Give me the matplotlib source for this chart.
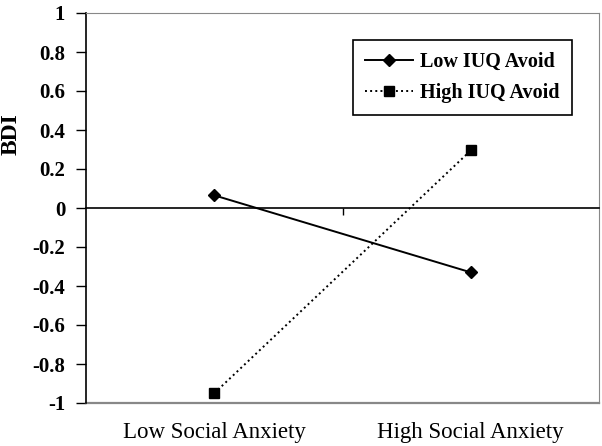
import matplotlib
matplotlib.use('Agg')
import matplotlib.pyplot as plt
from matplotlib.transforms import blended_transform_factory

# ── Data ────────────────────────────────────────────────────────────
categories = ['Low Social Anxiety', 'High Social Anxiety']
low_iuq    = [0.065, -0.33]
high_iuq   = [-0.95, 0.295]
series_names = ['Low IUQ Avoid', 'High IUQ Avoid']
yticks = [-1, -0.8, -0.6, -0.4, -0.2, 0, 0.2, 0.4, 0.6, 0.8, 1]
ytick_labels = ['-1', '-0.8', '-0.6', '-0.4', '-0.2', '0', '0.2', '0.4', '0.6', '0.8', '1']

plt.rcParams['font.family'] = ['Liberation Serif', 'DejaVu Serif']

fig = plt.figure(figsize=(6.02, 4.46), dpi=100)
ax = fig.add_axes([86/602, 43/446, 513/602, 390/446])

x = list(range(len(categories)))
ax.plot(x, low_iuq, '-', color='black', lw=1.4, marker='D', ms=6.5,
        label=series_names[0])
ax.plot(x, high_iuq, ':', color='black', lw=1.4, marker='s', ms=7.5,
        label=series_names[1])

ax.set_xlim(-0.5, 1.5)
ax.set_ylim(-1, 1)
ax.set_yticks(yticks)
ax.set_yticklabels(ytick_labels, fontsize=15, fontweight='bold')
ax.tick_params(axis='y', direction='out', length=7, width=1, pad=8)

# zero line acts as x axis with a single tick between the categories
ax.spines['bottom'].set_position(('data', 0))
ax.spines['bottom'].set_color('black')
ax.spines['bottom'].set_linewidth(1.2)
ax.set_xticks([0.5])
ax.set_xticklabels([''])
ax.tick_params(axis='x', direction='out', length=5, width=1)

for s in ['top', 'right']:
    ax.spines[s].set_color('#888888')
ax.axhline(-1, color='#888888', lw=1.6, clip_on=False)
ax.spines['left'].set_linewidth(1.2)

tr = blended_transform_factory(ax.transData, ax.transAxes)
for xi, name in zip(x, categories):
    ax.text(xi, -0.075, name, transform=tr, ha='center', va='center', fontsize=16.5)

ax.set_ylabel('BDI', fontsize=17, fontweight='bold')
ax.yaxis.set_label_coords(-0.125, 0.69)

leg = ax.legend(loc='upper right', bbox_to_anchor=(0.947, 0.931), borderaxespad=0,
                fancybox=False, edgecolor='black', framealpha=1,
                prop={'size': 14.5, 'weight': 'bold'}, handlelength=2.4,
                handletextpad=0.35, borderpad=0.6, labelspacing=0.55)
leg.get_frame().set_linewidth(1.2)

fig.savefig('out.png', dpi=100)
